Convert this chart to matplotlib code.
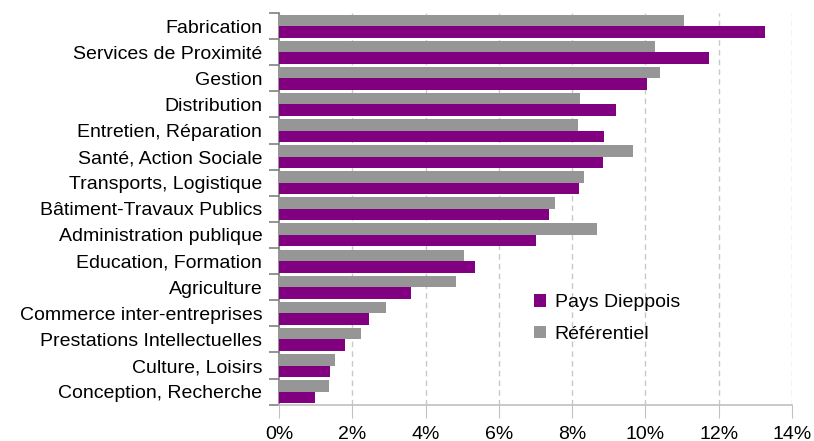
import numpy as np
import matplotlib
matplotlib.use('Agg')
import matplotlib.pyplot as plt
from matplotlib.ticker import FuncFormatter

# Data (percent)
categories = ['Fabrication', 'Services de Proximité', 'Gestion', 'Distribution',
              'Entretien, Réparation', 'Santé, Action Sociale', 'Transports, Logistique',
              'Bâtiment-Travaux Publics', 'Administration publique', 'Education, Formation',
              'Agriculture', 'Commerce inter-entreprises', 'Prestations Intellectuelles',
              'Culture, Loisirs', 'Conception, Recherche']
pays_dieppois = [13.27, 11.73, 10.04, 9.19, 8.86, 8.84, 8.18, 7.36, 7.01, 5.35,
                 3.60, 2.46, 1.81, 1.40, 0.99]
referentiel = [11.04, 10.25, 10.41, 8.21, 8.15, 9.65, 8.32, 7.53, 8.68, 5.05,
               4.83, 2.93, 2.24, 1.54, 1.37]
x_ticks = [0, 2, 4, 6, 8, 10, 12, 14]

plt.rcParams['font.family'] = ['Liberation Sans', 'DejaVu Sans']
plt.rcParams['font.size'] = 14

fig = plt.figure(figsize=(8.14, 4.41), dpi=100)
ax = fig.add_axes([0.3428, 0.0823, 0.9730 - 0.3428, 0.9705 - 0.0823])

y = np.arange(len(categories))
h = 0.44
ax.barh(y - h / 2, referentiel, height=h, color='#969696', label='Référentiel', zorder=3)
ax.barh(y + h / 2, pays_dieppois, height=h, color='#800080', label='Pays Dieppois', zorder=3)

ax.set_ylim(len(categories) - 0.5, -0.5)
ax.set_xlim(0, 14)

ax.set_xticks(x_ticks)
ax.xaxis.set_major_formatter(FuncFormatter(lambda v, p: f'{v:.0f}%'))
ax.tick_params(axis='x', length=9, color='#c0c0c0', pad=6)
ax.grid(axis='x', linestyle=(0, (4, 3)), color='#c8c8c8', linewidth=1, zorder=0)

ax.set_yticks(y)
ax.set_yticklabels(categories)
ax.set_yticks(np.arange(len(categories) + 1) - 0.5, minor=True)
ax.tick_params(axis='y', which='major', length=0, pad=12)
ax.tick_params(axis='y', which='minor', length=7, color='#808080', width=1.2)

for s in ['top', 'right']:
    ax.spines[s].set_visible(False)
ax.spines['left'].set_color('#808080')
ax.spines['left'].set_linewidth(1.2)
ax.spines['bottom'].set_color('#c0c0c0')
ax.spines['bottom'].set_linewidth(1.2)

handles, labels = ax.get_legend_handles_labels()
fig.legend(handles[::-1], labels[::-1], loc='upper left',
           bbox_to_anchor=(0.635, 0.372), frameon=False,
           handlelength=0.6, handleheight=0.6, handletextpad=0.45,
           labelspacing=0.75, fontsize=14)

fig.savefig('out.png', dpi=100)
